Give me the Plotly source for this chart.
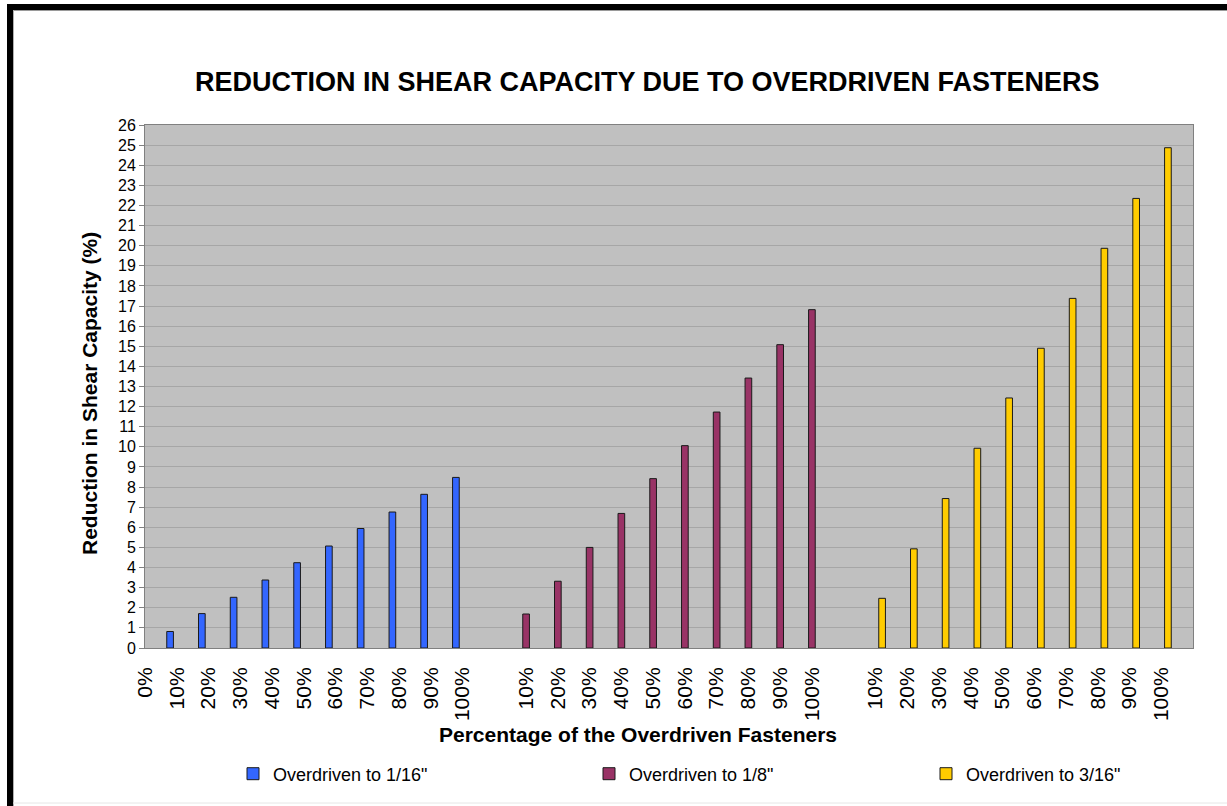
import plotly.graph_objects as go

# ---- data ----
categories = ["0%",
              "10%", "20%", "30%", "40%", "50%", "60%", "70%", "80%", "90%", "100%",
              " ",
              "10%", "20%", "30%", "40%", "50%", "60%", "70%", "80%", "90%", "100%",
              "  ",
              "10%", "20%", "30%", "40%", "50%", "60%", "70%", "80%", "90%", "100%"]
series_names = ['Overdriven to 1/16"', 'Overdriven to 1/8"', 'Overdriven to 3/16"']
blue_vals = [0.82, 1.71, 2.52, 3.38, 4.24, 5.07, 5.94, 6.76, 7.64, 8.48]
purple_vals = [1.69, 3.32, 5.00, 6.69, 8.42, 10.06, 11.73, 13.42, 15.08, 16.82]
yellow_vals = [2.47, 4.93, 7.43, 9.93, 12.43, 14.90, 17.38, 19.87, 22.35, 24.87]
y_ticks = list(range(0, 27))

title_text = "REDUCTION IN SHEAR CAPACITY DUE TO OVERDRIVEN FASTENERS"
x_title = "Percentage of the Overdriven Fasteners"
y_title = "Reduction in Shear Capacity (%)"

colors = ["#3366FF", "#993366", "#FFCC00"]
FONT = "Arial, 'Liberation Sans', sans-serif"

# positions of each group in the category list
positions = list(range(len(categories)))
group_pos = [positions[1:11], positions[12:22], positions[23:33]]
all_vals = [blue_vals, purple_vals, yellow_vals]

# clustered-bar styling (three slots per category)
bar_w = 0.21
bar_offsets = [-1.5 * bar_w, -0.5 * bar_w, 0.5 * bar_w]
legend_ids = ["legend", "legend2", "legend3"]

fig = go.Figure()
for name, xs, vals, col, off, lg in zip(series_names, group_pos, all_vals,
                                        colors, bar_offsets, legend_ids):
    fig.add_trace(go.Bar(
        x=xs, y=vals, name=name,
        width=bar_w, offset=off,
        marker=dict(color=col, line=dict(color="#1a1a1a", width=1)),
        hoverinfo="x+y",
        legend=lg,
    ))

W, H = 1227, 806
L, R, T, B = 145, 34, 125, 158
pw, ph = W - L - R, H - T - B

def px_x(x):
    return (x - L) / pw

def px_y(y):
    return (H - B - y) / ph

def legend_at(xpix):
    return dict(
        orientation="h",
        xref="container", yref="container",
        x=xpix / W, y=1 - 774 / H,
        xanchor="left", yanchor="middle",
        font=dict(size=18, family=FONT, color="black"),
        bgcolor="rgba(0,0,0,0)",
        itemclick=False, itemdoubleclick=False,
    )

fig.update_layout(
    width=W, height=H,
    margin=dict(l=L, r=R, t=T, b=B, autoexpand=False),
    paper_bgcolor="white",
    plot_bgcolor="#C0C0C0",
    barmode="overlay",
    font=dict(family=FONT, color="black"),
    showlegend=True,
    legend=legend_at(233),
    legend2=legend_at(589),
    legend3=legend_at(926),
    xaxis=dict(
        range=[0, len(categories)],
        tickmode="array",
        tickvals=positions,
        ticktext=categories,
        tickangle=-90,
        tickfont=dict(size=21, family=FONT, color="black"),
        ticks="",
        ticklabelstandoff=10,
        showgrid=False,
        zeroline=False,
        showline=True, linecolor="#808080", linewidth=1, mirror=True,
        fixedrange=True,
    ),
    yaxis=dict(
        range=[0, 26],
        tickmode="array",
        tickvals=y_ticks,
        ticktext=[str(v) for v in y_ticks],
        tickfont=dict(size=16, family=FONT, color="black"),
        ticks="outside", ticklen=5, tickcolor="#808080",
        showgrid=True, gridcolor="#A6A6A6", gridwidth=1,
        zeroline=False,
        showline=True, linecolor="#808080", linewidth=1, mirror=True,
        fixedrange=True,
    ),
    annotations=[
        dict(text="<b>" + title_text + "</b>", xref="paper", yref="paper",
             x=px_x(647), y=px_y(82), xanchor="center", yanchor="middle",
             showarrow=False, font=dict(size=27, family=FONT, color="black")),
        dict(text="<b>" + x_title + "</b>", xref="paper", yref="paper",
             x=px_x(638), y=px_y(734), xanchor="center", yanchor="middle",
             showarrow=False, font=dict(size=21, family=FONT, color="black")),
        dict(text="<b>" + y_title + "</b>", xref="paper", yref="paper",
             x=px_x(89), y=px_y(394), xanchor="center", yanchor="middle",
             textangle=-90,
             showarrow=False, font=dict(size=21, family=FONT, color="black")),
    ],
    shapes=[
        # black frame (top and left) with thin grey inner edge
        dict(type="rect", xref="paper", yref="paper",
             x0=px_x(7), x1=px_x(W + 5), y0=px_y(10), y1=px_y(4),
             fillcolor="black", line=dict(width=0), layer="above"),
        dict(type="rect", xref="paper", yref="paper",
             x0=px_x(7), x1=px_x(13), y0=px_y(H + 5), y1=px_y(4),
             fillcolor="black", line=dict(width=0), layer="above"),
        dict(type="line", xref="paper", yref="paper",
             x0=px_x(13), x1=px_x(W + 5), y0=px_y(10.5), y1=px_y(10.5),
             line=dict(color="#9a9a9a", width=1), layer="above"),
        dict(type="line", xref="paper", yref="paper",
             x0=px_x(13.5), x1=px_x(13.5), y0=px_y(10), y1=px_y(H + 5),
             line=dict(color="#b0b0b0", width=1), layer="above"),
        dict(type="line", xref="paper", yref="paper",
             x0=px_x(13), x1=px_x(W + 5), y0=px_y(803), y1=px_y(803),
             line=dict(color="#e6e6e6", width=1), layer="above"),
    ],
)

fig.write_html(
    "out.html",
    config={"displayModeBar": False},
    post_script="document.body.style.margin='0px';document.body.style.overflow='hidden';",
)
